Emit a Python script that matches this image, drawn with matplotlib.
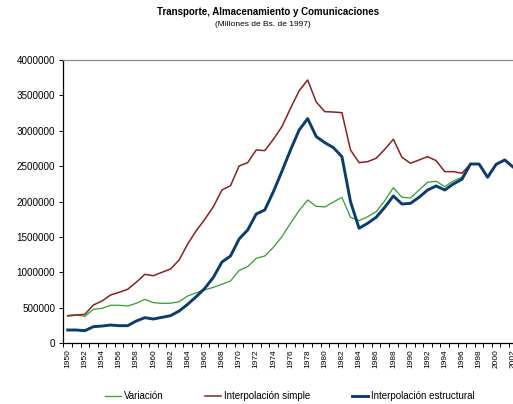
"""Transporte, Almacenamiento y Comunicaciones - series 1950-2002."""
import matplotlib

matplotlib.use("Agg")
import matplotlib.pyplot as plt
from matplotlib.lines import Line2D
from matplotlib.ticker import FixedLocator, FuncFormatter

plt.rcParams["font.family"] = ["Liberation Sans", "DejaVu Sans"]

anios = [1950, 1951, 1952, 1953, 1954, 1955, 1956, 1957, 1958, 1959,
         1960, 1961, 1962, 1963, 1964, 1965, 1966, 1967, 1968, 1969,
         1970, 1971, 1972, 1973, 1974, 1975, 1976, 1977, 1978, 1979,
         1980, 1981, 1982, 1983, 1984, 1985, 1986, 1987, 1988, 1989,
         1990, 1991, 1992, 1993, 1994, 1995, 1996, 1997, 1998, 1999,
         2000, 2001, 2002]

variacion = [395000, 400000, 381000, 480000, 494000, 537000, 537000, 527000, 565000, 621000,
             574000, 565000, 565000, 588000, 668000, 715000, 755000, 790000, 835000, 880000,
             1028000, 1082000, 1200000, 1233000, 1355000, 1506000, 1695000, 1873000, 2024000, 1935000,
             1925000, 1995000, 2060000, 1780000, 1732000, 1788000, 1859000, 2014000, 2198000, 2062000,
             2052000, 2165000, 2274000, 2288000, 2212000, 2292000, 2345000, 2532000, 2532000, 2345000,
             2528000, 2589000, 2486000]

interp_simple = [386000, 400000, 409000, 541000, 597000, 682000, 720000, 763000, 862000, 974000,
                 955000, 1003000, 1049000, 1176000, 1402000, 1590000, 1751000, 1930000, 2165000, 2226000,
                 2504000, 2551000, 2730000, 2721000, 2880000, 3060000, 3319000, 3564000, 3719000, 3408000,
                 3271000, 3266000, 3257000, 2730000, 2551000, 2565000, 2613000, 2740000, 2881000, 2627000,
                 2542000, 2589000, 2636000, 2579000, 2424000, 2424000, 2401000, 2532000, 2532000, 2345000,
                 2528000, 2589000, 2486000]

interp_estructural = [188000, 188000, 178000, 235000, 244000, 258000, 249000, 249000, 315000, 362000,
                      343000, 367000, 390000, 456000, 551000, 659000, 777000, 932000, 1148000, 1233000,
                      1473000, 1600000, 1826000, 1883000, 2141000, 2430000, 2730000, 3010000, 3173000, 2919000,
                      2834000, 2763000, 2636000, 2000000, 1624000, 1695000, 1780000, 1921000, 2081000, 1967000,
                      1977000, 2062000, 2165000, 2222000, 2165000, 2250000, 2316000, 2532000, 2532000, 2345000,
                      2528000, 2589000, 2486000]

etiquetas_x = [str(a) for a in anios[::2]]
ticks_y = [0, 500000, 1000000, 1500000, 2000000, 2500000, 3000000, 3500000, 4000000]

COR = {"variacion": "#2f9e2f", "simple": "#8e1f1f", "estructural": "#0b3c6e"}

fig = plt.figure(figsize=(5.13, 4.04), dpi=100)
ax = fig.add_axes([0.1236, 0.1502, 0.8854, 0.7012])

ax.plot(anios, variacion, color=COR["variacion"], linewidth=0.9)
ax.plot(anios, interp_simple, color=COR["simple"], linewidth=1.1)
ax.plot(anios, interp_estructural, color=COR["estructural"], linewidth=2.1)

ax.set_xlim(anios[0] - 0.5, anios[-1] + 0.5)
ax.set_ylim(0, 4000000)

# rotulos centrados na categoria, marcas nas fronteiras
ax.xaxis.set_major_locator(FixedLocator(anios[::2]))
ax.set_xticklabels(etiquetas_x, rotation=90, fontsize=6)
ax.xaxis.set_minor_locator(FixedLocator([a - 0.5 for a in anios] + [anios[-1] + 0.5]))
ax.tick_params(axis="x", which="major", length=0, pad=4.5)
ax.tick_params(axis="x", which="minor", length=3, width=0.7, direction="out")

ax.set_yticks(ticks_y)
ax.yaxis.set_major_formatter(FuncFormatter(lambda v, p: f"{v:.0f}"))
ax.tick_params(axis="y", length=3, width=0.7, direction="out", labelsize=7.1, pad=3)

ax.spines["right"].set_visible(False)
ax.spines["top"].set_color("#8c8c8c")
ax.spines["top"].set_linewidth(0.9)
for lado in ["left", "bottom"]:
    ax.spines[lado].set_color("black")
    ax.spines[lado].set_linewidth(0.9)

fig.text(268 / 513, 1 - 11.7 / 404, "Transporte, Almacenamiento y Comunicaciones",
         ha="center", va="center", fontsize=7, fontweight="bold")
fig.text(263 / 513, 1 - 25 / 404, "(Millones de Bs. de 1997)",
         ha="center", va="center", fontsize=6)

handles = [Line2D([], [], color=COR["variacion"], linewidth=0.9),
           Line2D([], [], color=COR["simple"], linewidth=1.1),
           Line2D([], [], color=COR["estructural"], linewidth=2.1)]
fig.legend(handles, ["Variación", "Interpolación simple", "Interpolación estructural"],
           loc="center left", bbox_to_anchor=(105 / 513, 8 / 404), ncol=3, frameon=False,
           fontsize=7, handlelength=1.65, handletextpad=0.25, columnspacing=4.35,
           borderpad=0, borderaxespad=0)

fig.savefig("out.png", dpi=100)
